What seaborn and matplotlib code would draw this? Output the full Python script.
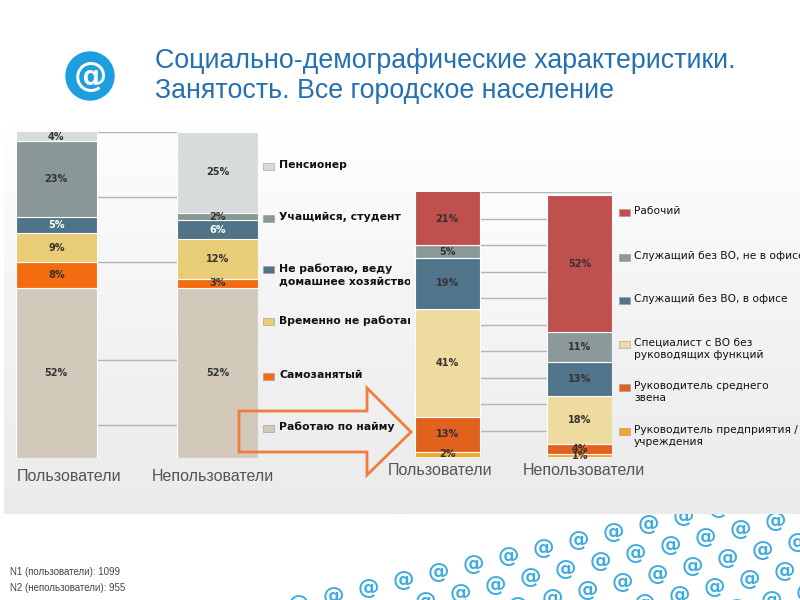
import numpy as np
import pandas as pd
import matplotlib
matplotlib.use("Agg")
import matplotlib.pyplot as plt
import seaborn as sns
from matplotlib.patches import Rectangle, Polygon, Circle
from matplotlib.colors import LinearSegmentedColormap

groups = ["Пользователи", "Непользователи"]

# левая диаграмма - статус занятости (снизу вверх)
status_labels = ["Работаю по найму", "Самозанятый", "Временно не работаю",
                 "Не работаю, веду\nдомашнее хозяйство", "Учащийся, студент", "Пенсионер"]
status_users = [52, 8, 9, 5, 23, 4]
status_nonusers = [52, 3, 12, 6, 2, 25]
status_colors = ["#d3c9bb", "#f56c10", "#e9cc76", "#4f7487", "#8a9797", "#d6dcdc"]
status_text = ["#333333", "#333333", "#333333", "white", "#333333", "#333333"]

# правая диаграмма - должность (снизу вверх)
job_labels = ["Руководитель предприятия /\nучреждения", "Руководитель среднего\nзвена",
              "Специалист с ВО без\nруководящих функций", "Служащий без ВО, в офисе",
              "Служащий без ВО, не в офисе", "Рабочий"]
job_users = [2, 13, 41, 19, 5, 21]
job_nonusers = [1, 4, 18, 13, 11, 52]
job_colors = ["#f5a623", "#e1611f", "#eedb9f", "#50758a", "#8c999b", "#c0504d"]
job_text = ["#333333"] * 6

sns.set_style("white")
plt.rcParams["font.family"] = ["DejaVu Sans"]

fig = plt.figure(figsize=(8, 6), dpi=100)

# вертикальный градиент серой подложки слайда
panel_top, panel_bottom = 126, 514
panel_cmap = LinearSegmentedColormap.from_list("panel", ["#ffffff", "#f3f3f3", "#ebebeb"])


def panel_fill(ax, x0, x1, y0, y1, z):
    t = (np.linspace(y0, y1, 200) - panel_top) / (panel_bottom - panel_top)
    ax.imshow(t.reshape(-1, 1), extent=(x0, x1, y1, y0), aspect="auto", cmap=panel_cmap,
              vmin=0, vmax=1, zorder=z)


def px_axes(z):
    a = fig.add_axes([0, 0, 1, 1], zorder=z)
    a.axis("off")
    return a


def px_limits(a):
    a.set_xlim(0, 800)
    a.set_ylim(600, 0)


bg = px_axes(0)
for r in range(0, 7):
    for k in range(-6, 26):
        x = 403 + 35 * k - 13 * r
        y = 580 - 8 * k + 29 * r
        if 270 < x < 815 and 505 < y < 615:
            bg.text(x, y, "@", fontsize=15.5, fontweight="bold", color="#40abde",
                    ha="center", va="center")
panel_fill(bg, 4, 800, panel_top, panel_bottom, 3)
bg.add_patch(Circle((90, 76), 24, color="#1d9ee0", zorder=3))
bg.text(90, 77, "@", fontsize=24, fontweight="bold", color="white", ha="center",
        va="center", zorder=4)
bg.text(155, 68, "Социально-демографические характеристики.", fontsize=19.3,
        color="#2570b0", family="Liberation Sans", va="baseline", zorder=4)
bg.text(155, 98, "Занятость. Все городское население", fontsize=19.3,
        color="#2570b0", family="Liberation Sans", va="baseline", zorder=4)
bg.text(10, 572, "N1 (пользователи): 1099", fontsize=7, color="#444444",
        family="Liberation Sans", va="center")
bg.text(10, 588, "N2 (непользователи): 955", fontsize=7, color="#444444",
        family="Liberation Sans", va="center")
px_limits(bg)

grad_cmap = LinearSegmentedColormap.from_list("g", ["#fdfdfd", "#ededed"])
grad = np.linspace(0, 1, 200).reshape(-1, 1)


def draw_stack(ax, users, nonusers, colors, text_colors, width, ticks, lab_dx, lab_y):
    base = np.zeros(2)
    for u, n, col, tc in zip(users, nonusers, colors, text_colors):
        df = pd.DataFrame({"group": groups, "share": [u, n]})
        sns.barplot(data=df, x="group", y="share", bottom=base.copy(), color=col,
                    saturation=1, width=width, edgecolor="white", linewidth=0.8,
                    ax=ax, zorder=2)
        ax.bar_label(ax.containers[-1], labels=[f"{u}%", f"{n}%"], label_type="center",
                     fontsize=7, fontweight="bold", color=tc, zorder=3)
        base += [u, n]
    ax.imshow(grad, extent=(-1, 2, 0, 100), aspect="auto", cmap=grad_cmap, zorder=0.1)
    ax.set_xlim(-width / 2, 1 + width / 2)
    ax.set_ylim(0, 100)
    ax.set_yticks(ticks)
    ax.yaxis.grid(True, color="#b4b4b4", linewidth=1)
    ax.set_axisbelow(True)
    ax.tick_params(left=False, labelleft=False, bottom=False, labelbottom=False)
    ax.set_xlabel("")
    ax.set_ylabel("")
    sns.despine(ax=ax, left=True, bottom=True)
    for i, g in enumerate(groups):
        ax.text(i + lab_dx[i], lab_y, g, transform=ax.get_xaxis_transform(),
                ha="center", va="center", fontsize=11.5, color="#555555",
                family="Liberation Sans")


# левая диаграмма
ax1 = fig.add_axes([16 / 800, 1 - 458 / 600, 242 / 800, 326.3 / 600], zorder=1)
draw_stack(ax1, status_users, status_nonusers, status_colors, status_text, 0.5,
           [10, 30, 60, 80, 100], [0.08, -0.03], -0.058)

leg1 = px_axes(2)
for lab, col, y in zip(status_labels, status_colors, [429, 377, 322, 270, 219, 167]):
    leg1.add_patch(Rectangle((263, y - 4), 11, 7, facecolor=col, edgecolor="#999999", lw=0.4))
    leg1.text(279, y - 7, lab, fontsize=7.8, fontweight="bold", color="#111111",
              va="top", linespacing=1.35)
px_limits(leg1)

# поле правой диаграммы закрывает хвосты подписей левой легенды
cover = px_axes(3)
panel_fill(cover, 410, 800, 185, 485, 1)
px_limits(cover)

ax2 = fig.add_axes([415 / 800, 1 - 457 / 600, 197 / 800, 265 / 600], zorder=4)
draw_stack(ax2, job_users, job_nonusers, job_colors, job_text, 0.487,
           list(range(10, 101, 10)), [-0.053, 0.032], -0.05)

leg2 = px_axes(5)
for lab, col, y in zip(job_labels, job_colors, [432, 388, 345, 301, 258, 213]):
    leg2.add_patch(Rectangle((619, y - 4), 11, 7, facecolor=col, edgecolor="#999999", lw=0.4))
    leg2.text(634, y - 7, lab, fontsize=7.7, color="#111111", va="top", linespacing=1.3)
px_limits(leg2)

# стрелка
top = px_axes(6)
top.add_patch(Polygon([(239, 411), (367, 411), (367, 388), (411, 432), (367, 475),
                       (367, 452), (239, 452)], closed=True, fill=False,
                      edgecolor="#ef7d3c", linewidth=2))
px_limits(top)

fig.savefig("out.png", dpi=100)
